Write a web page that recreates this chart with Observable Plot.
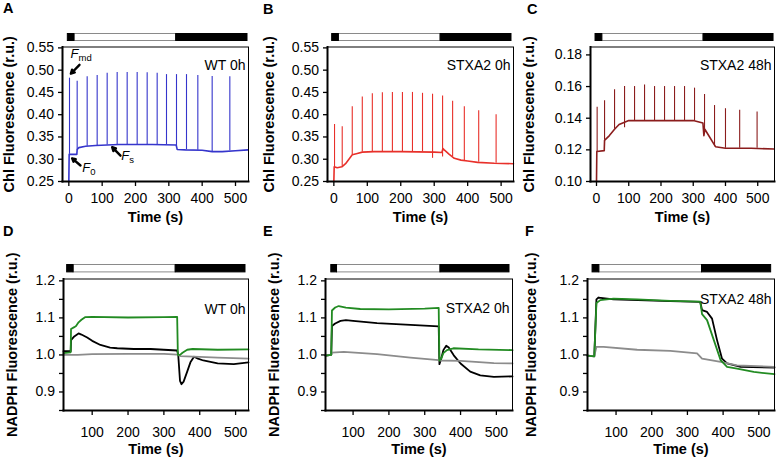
<!DOCTYPE html>
<html>
<head>
<meta charset="utf-8">
<script src="https://cdn.jsdelivr.net/npm/d3@7"></script>
<script src="https://cdn.jsdelivr.net/npm/@observablehq/plot@0.6"></script>
<style>
  html, body { margin: 0; padding: 0; background: #fff; }
  #fig { position: relative; width: 780px; height: 459px; overflow: hidden; font-family: Arial, "Liberation Sans", Helvetica, sans-serif; }
  #fig svg { position: absolute; overflow: visible; }
  .letter { position: absolute; font-weight: bold; font-size: 14.5px; line-height: 14.5px; color: #000; }
  g[aria-label="y-axis label"], g[aria-label="x-axis label"] { font-weight: bold; font-size: 14.5px; }
</style>
</head>
<body>
<div id="fig"></div>
<script>
// ================= DATA =================
const panelLetters = ["A", "B", "C", "D", "E", "F"];
const panelTitles = ["WT 0h", "STXA2 0h", "STXA2 48h", "WT 0h", "STXA2 0h", "STXA2 48h"];
const yLabelChl = "Chl Fluorescence (r.u.)";
const yLabelNadph = "NADPH Fluorescence (r.u.)";
const xLabel = "Time (s)";

const xTicksTop = [0, 100, 200, 300, 400, 500];
const xTicksBottom = [100, 200, 300, 400, 500];
const yTicksChl = [0.25, 0.30, 0.35, 0.40, 0.45, 0.50, 0.55];
const yTicksChl48 = [0.10, 0.12, 0.14, 0.16, 0.18];
const yTicksNadph = [0.85, 0.90, 0.95, 1.00, 1.05, 1.10, 1.15, 1.20];
const yLabelsNadph = [0.9, 1.0, 1.1, 1.2];

// light bar boundaries (s): [start, light on, light off, end]
const lightA = [-3, 17, 322, 536];
const lightB = [-5, 15, 319, 531];
const lightC = [-3, 18, 332, 549];
const lightD = [30, 48, 333, 528];
const lightE = [39, 55, 344, 537];
const lightF = [34, 53, 341, 535];

// Chl fluorescence: steady trace [t, value] and saturating pulses
const traceA = [[0,0.25],[1,0.311],[24,0.311],[25,0.322],[30,0.326],[50,0.329],[80,0.331],[150,0.333],[250,0.333],[322,0.332],[325,0.322],[350,0.321],[400,0.320],[430,0.317],[460,0.317],[500,0.319],[538,0.321]];
const spikeTimeA = [2,25,55,85,115,145,175,205,235,265,293,323,353,387,430,483];
const spikePeakA = [0.482,0.475,0.485,0.488,0.493,0.495,0.495,0.495,0.494,0.493,0.490,0.490,0.490,0.488,0.486,0.485];
const spikeBaseA = [0.311,0.320,0.329,0.331,0.332,0.333,0.333,0.333,0.333,0.333,0.333,0.328,0.321,0.320,0.317,0.319];

const traceB = [[0,0.25],[1,0.283],[10,0.281],[24,0.283],[35,0.290],[45,0.300],[55,0.310],[70,0.313],[85,0.316],[120,0.317],[200,0.317],[300,0.316],[323,0.315],[326,0.324],[330,0.321],[345,0.311],[360,0.302],[380,0.298],[400,0.296],[430,0.293],[480,0.291],[537,0.290]];
const spikeTimeB = [2,25,55,85,115,145,175,205,235,265,295,325,355,390,433,485];
const spikePeakB = [0.378,0.373,0.418,0.440,0.447,0.449,0.450,0.450,0.450,0.448,0.446,0.442,0.430,0.418,0.409,0.400];
const spikeBaseB = [0.282,0.283,0.310,0.316,0.317,0.317,0.317,0.317,0.317,0.317,0.302,0.305,0.306,0.296,0.293,0.291];

const traceC = [[0,0.100],[1,0.119],[24,0.1195],[25,0.126],[40,0.129],[56,0.133],[70,0.136],[87,0.1375],[100,0.1385],[200,0.1385],[300,0.1385],[330,0.137],[333,0.129],[336,0.133],[345,0.130],[369,0.122],[400,0.121],[480,0.121],[550,0.1205]];
const spikeTimeC = [2,25,56,87,118,149,180,211,242,273,304,335,366,400,444,498];
const spikePeakC = [0.147,0.151,0.158,0.160,0.160,0.161,0.160,0.160,0.160,0.160,0.159,0.155,0.148,0.146,0.145,0.144];
const spikeBaseC = [0.119,0.126,0.133,0.134,0.1385,0.1385,0.1385,0.1385,0.1385,0.1385,0.1385,0.132,0.122,0.121,0.121,0.121];

// annotations on panel A (F_md, F_0, F_s)
const annotA = [
  {name: "F", sub: "md", head: [6, 0.492], tail: [32, 0.512], at: [5, 0.5356]},
  {name: "F", sub: "0",  head: [10, 0.302], tail: [35, 0.286], at: [40, 0.2796]},
  {name: "F", sub: "s",  head: [130, 0.327], tail: [155, 0.308], at: [157, 0.3066]}
];

// NADPH fluorescence traces [t, value]
const greenD = [[20,1.005],[40,1.007],[41,1.07],[50,1.075],[55,1.078],[62,1.088],[70,1.095],[80,1.102],[100,1.103],[200,1.101],[300,1.102],[337,1.103],[339,1.0],[345,1.0],[352,1.006],[365,1.014],[380,1.016],[450,1.014],[536,1.015]];
const blackD = [[20,1.01],[40,1.01],[41,1.04],[50,1.05],[62,1.058],[70,1.055],[86,1.047],[100,1.038],[123,1.027],[150,1.02],[170,1.018],[216,1.016],[263,1.016],[300,1.014],[337,1.012],[340,1.0],[345,0.93],[349,0.921],[355,0.928],[365,0.955],[374,0.98],[384,0.995],[395,0.99],[410,0.985],[450,0.977],[495,0.975],[536,0.98]];
const grayD = [[20,1.0],[60,1.0],[100,1.002],[200,1.003],[300,1.003],[337,1.001],[345,0.997],[400,0.995],[450,0.993],[536,0.99]];

const greenE = [[23,0.998],[39,1.0],[41,1.12],[50,1.128],[60,1.132],[80,1.128],[120,1.124],[200,1.123],[300,1.125],[339,1.127],[341,0.985],[346,0.99],[352,1.005],[362,1.013],[380,1.018],[450,1.015],[545,1.013]];
const blackE = [[23,0.998],[39,1.0],[41,1.078],[50,1.085],[65,1.092],[80,1.094],[100,1.092],[167,1.086],[260,1.081],[339,1.077],[341,0.975],[346,0.99],[352,1.013],[360,1.025],[367,1.02],[381,0.999],[400,0.977],[427,0.955],[455,0.945],[493,0.941],[545,0.942]];
const grayE = [[23,0.998],[39,1.0],[41,1.006],[74,1.008],[167,1.002],[260,0.993],[339,0.986],[345,0.985],[400,0.984],[493,0.978],[545,0.977]];

const greenF = [[20,0.998],[39,0.996],[45,1.14],[56,1.148],[93,1.152],[159,1.15],[252,1.146],[336,1.144],[341,1.11],[355,1.094],[374,1.04],[393,0.986],[411,0.968],[439,0.963],[486,0.954],[544,0.948]];
const blackF = [[20,0.998],[39,0.996],[45,1.15],[51,1.155],[93,1.15],[252,1.145],[336,1.143],[341,1.121],[355,1.116],[369,1.098],[383,1.04],[397,0.99],[411,0.977],[449,0.968],[544,0.966]];
const grayF = [[20,0.998],[39,0.997],[45,1.022],[65,1.022],[159,1.014],[252,1.011],[327,1.004],[341,0.99],[393,0.981],[439,0.972],[544,0.968]];

// ================= LAYOUT =================
const FONT = 'Arial, "Liberation Sans", Helvetica, sans-serif';
const COLORS = {blue: "#3535cc", red: "#e8302a", maroon: "#8b1d1d", green: "#228b22", black: "#000000", gray: "#8c8c8c"};

const layouts = [
  {cell: {x: 0,   y: 0,   w: 260, h: 230}, frame: {l: 62,  r: 248, t: 46.5,  b: 181}, bar: {t: 32.5, h: 8}, xDomain: [-19, 539],  yDomain: [0.25, 0.552], yLabelOffset: 58.5, titleDy: 13.5, xTickPad: 7,  xLabelOffset: 40.8, letter: [3, 1]},
  {cell: {x: 260, y: 0,   w: 260, h: 230}, frame: {l: 327, r: 513, t: 46.5,  b: 181}, bar: {t: 32.5, h: 8}, xDomain: [-19, 537],  yDomain: [0.25, 0.552], yLabelOffset: 63.5, titleDy: 13.5, xTickPad: 7,  xLabelOffset: 40.8, letter: [263, 2]},
  {cell: {x: 520, y: 0,   w: 260, h: 230}, frame: {l: 590, r: 774, t: 46.5,  b: 181}, bar: {t: 32.5, h: 8}, xDomain: [-18.6, 552], yDomain: [0.10, 0.185], yLabelOffset: 66.5, titleDy: 13.5, xTickPad: 7,  xLabelOffset: 40.8, letter: [527, 2]},
  {cell: {x: 0,   y: 230, w: 260, h: 229}, frame: {l: 63,  r: 248, t: 278.5, b: 410}, bar: {t: 264.3, h: 8.4}, xDomain: [20, 536], yDomain: [0.85, 1.205], yLabelOffset: 57,   titleDy: 25,   xTickPad: 12, xLabelOffset: 43.4, letter: [3, 224]},
  {cell: {x: 260, y: 230, w: 260, h: 229}, frame: {l: 325, r: 512, t: 278.5, b: 410}, bar: {t: 264.3, h: 8.4}, xDomain: [23, 545], yDomain: [0.85, 1.205], yLabelOffset: 56.5, titleDy: 24.5, xTickPad: 12, xLabelOffset: 43.4, letter: [263, 224]},
  {cell: {x: 520, y: 230, w: 260, h: 229}, frame: {l: 587, r: 774, t: 278.5, b: 410}, bar: {t: 264.3, h: 8.4}, xDomain: [20, 544], yDomain: [0.85, 1.205], yLabelOffset: 61.5, titleDy: 15,   xTickPad: 12, xLabelOffset: 43.4, letter: [525, 224]}
];

const fig = document.getElementById("fig");
function mount(node, left, top) {
  node.style.left = left + "px";
  node.style.top = top + "px";
  fig.appendChild(node);
}
function margins(L) {
  return {
    marginLeft: L.frame.l - L.cell.x,
    marginRight: L.cell.x + L.cell.w - L.frame.r,
    marginTop: L.frame.t - L.cell.y,
    marginBottom: L.cell.y + L.cell.h - L.frame.b
  };
}

function lightBar(L, bounds) {
  const dark = [{x1: bounds[0], x2: bounds[1]}, {x1: bounds[2], x2: bounds[3]}];
  const light = [{x1: bounds[1], x2: bounds[2]}];
  const svg = Plot.plot({
    width: L.cell.w, height: L.bar.h,
    marginLeft: L.frame.l - L.cell.x, marginRight: L.cell.x + L.cell.w - L.frame.r,
    marginTop: 0, marginBottom: 0,
    x: {domain: L.xDomain, axis: null},
    style: {background: "transparent", overflow: "visible"},
    marks: [
      Plot.rect(light, {x1: "x1", x2: "x2", fill: "#fff", stroke: "#8a8a8a", strokeWidth: 1, insetTop: 0.5, insetBottom: 0.5}),
      Plot.rect(dark, {x1: "x1", x2: "x2", fill: "#000", stroke: "#000", strokeWidth: 1, insetTop: 0.5, insetBottom: 0.5})
    ]
  });
  mount(svg, L.cell.x, L.bar.t);
}

function frameAndAxes(L, o) {
  return [
    Plot.axisY({ticks: o.yTicks, tickFormat: o.yFormat, tickSize: 4, tickPadding: 4.5, strokeWidth: 1.3,
      label: o.yLabel, labelAnchor: "center", labelArrow: false, labelOffset: L.yLabelOffset}),
    Plot.axisX({ticks: o.xTicks, tickFormat: d => String(d), tickSize: 5, tickPadding: L.xTickPad, strokeWidth: 1.3,
      label: xLabel, labelAnchor: "center", labelArrow: false, labelOffset: L.xLabelOffset}),
    Plot.frame({stroke: "#000", strokeWidth: 1}),
    Plot.frame({anchor: "left", stroke: "#000", strokeWidth: 2}),
    Plot.frame({anchor: "bottom", stroke: "#000", strokeWidth: 2}),
    Plot.text([o.title], {text: d => d, frameAnchor: "top-right", dx: -3, dy: L.titleDy, fontSize: 14, fill: "#000"})
  ];
}

function chlPanel(i, trace, times, peaks, bases, color, yTicks, extra) {
  const L = layouts[i];
  const spikes = times.map((t, k) => ({t, peak: peaks[k], base: bases[k]}));
  const svg = Plot.plot({
    width: L.cell.w, height: L.cell.h, ...margins(L),
    x: {domain: L.xDomain},
    y: {domain: L.yDomain},
    style: {fontSize: "14px", fontFamily: FONT, background: "transparent", overflow: "visible"},
    marks: [
      Plot.ruleX(spikes, {x: "t", y1: "base", y2: "peak", stroke: color, strokeWidth: 1.1}),
      Plot.line(trace, {x: d => d[0], y: d => d[1], stroke: color, strokeWidth: 1.6}),
      ...(extra || []),
      ...frameAndAxes(L, {yTicks, yFormat: d => d.toFixed(2), xTicks: xTicksTop, yLabel: yLabelChl, title: panelTitles[i]})
    ]
  });
  mount(svg, L.cell.x, L.cell.y);
}

function nadphPanel(i, green, black, gray) {
  const L = layouts[i];
  const svg = Plot.plot({
    width: L.cell.w, height: L.cell.h, ...margins(L),
    x: {domain: L.xDomain},
    y: {domain: L.yDomain},
    style: {fontSize: "14px", fontFamily: FONT, background: "transparent", overflow: "visible"},
    marks: [
      Plot.line(black, {x: d => d[0], y: d => d[1], stroke: COLORS.black, strokeWidth: 1.8}),
      Plot.line(gray, {x: d => d[0], y: d => d[1], stroke: COLORS.gray, strokeWidth: 1.8}),
      Plot.line(green, {x: d => d[0], y: d => d[1], stroke: COLORS.green, strokeWidth: 1.8}),
      ...frameAndAxes(L, {
        yTicks: yTicksNadph,
        yFormat: d => yLabelsNadph.some(v => Math.abs(v - d) < 1e-9) ? d.toFixed(1) : "",
        xTicks: xTicksBottom, yLabel: yLabelNadph, title: panelTitles[i]
      })
    ]
  });
  mount(svg, L.cell.x, L.cell.y);
}

const annotMarks = [
  Plot.arrow(annotA, {x1: d => d.tail[0], y1: d => d.tail[1], x2: d => d.head[0], y2: d => d.head[1],
    stroke: "#000", strokeWidth: 2.4, headLength: 7, headAngle: 55}),
  Plot.text(annotA, {x: d => d.at[0], y: d => d.at[1], text: "name", textAnchor: "start", fontStyle: "italic", fontSize: 13, fill: "#000"}),
  Plot.text(annotA, {x: d => d.at[0], y: d => d.at[1], text: "sub", textAnchor: "start", dx: 8, dy: 4, fontSize: 9.5, fill: "#000"})
];

const lights = [lightA, lightB, lightC, lightD, lightE, lightF];
layouts.forEach((L, i) => lightBar(L, lights[i]));

chlPanel(0, traceA, spikeTimeA, spikePeakA, spikeBaseA, COLORS.blue, yTicksChl, annotMarks);
chlPanel(1, traceB, spikeTimeB, spikePeakB, spikeBaseB, COLORS.red, yTicksChl);
chlPanel(2, traceC, spikeTimeC, spikePeakC, spikeBaseC, COLORS.maroon, yTicksChl48);
nadphPanel(3, greenD, blackD, grayD);
nadphPanel(4, greenE, blackE, grayE);
nadphPanel(5, greenF, blackF, grayF);

layouts.forEach((L, i) => {
  const d = document.createElement("div");
  d.className = "letter";
  d.textContent = panelLetters[i];
  d.style.left = L.letter[0] + "px";
  d.style.top = L.letter[1] + "px";
  fig.appendChild(d);
});
</script>
</body>
</html>
